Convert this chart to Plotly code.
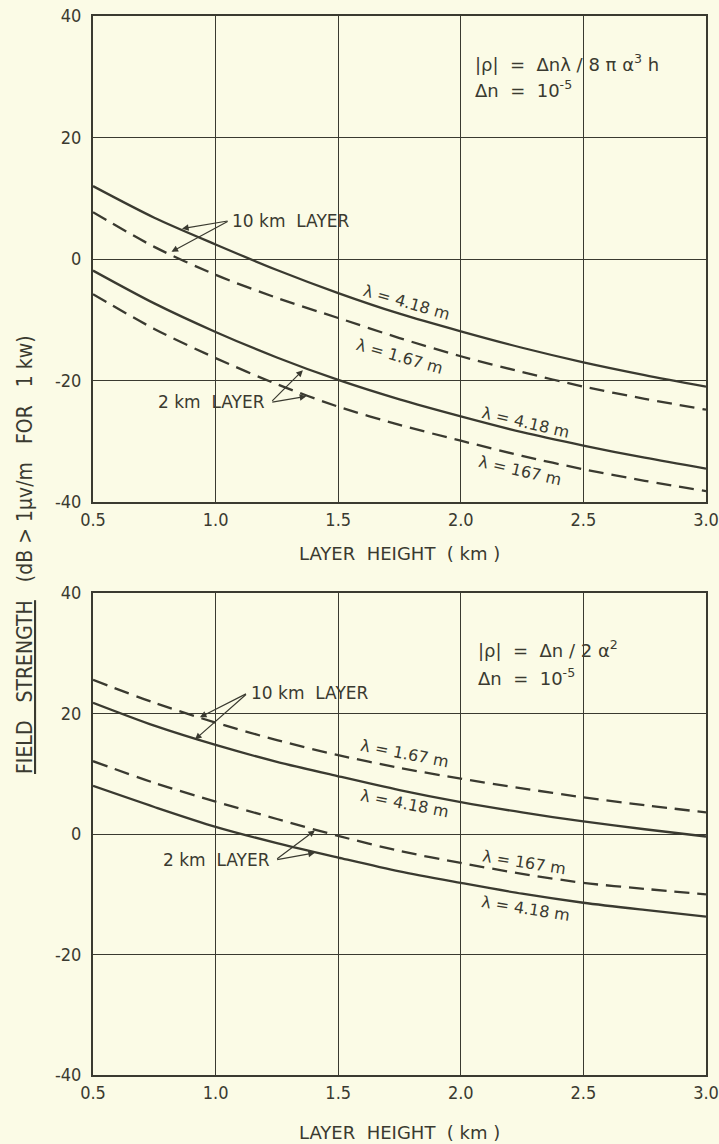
import plotly.graph_objects as go

# ---------------- data ----------------
layer_height_km = [0.5, 0.75, 1.0, 1.25, 1.5, 1.75, 2.0, 2.25, 2.5, 2.75, 3.0]

# Top panel: |rho| = dn*lambda / 8 pi a^3 h
top_10km_418 = [12.0, 6.8, 2.4, -1.8, -5.6, -9.0, -11.9, -14.6, -17.0, -19.1, -21.0]
top_10km_167 = [7.7, 2.0, -2.6, -6.4, -9.7, -13.0, -16.0, -18.6, -21.0, -23.0, -24.8]
top_2km_418 = [-1.9, -7.3, -12.0, -16.2, -19.9, -23.1, -25.9, -28.5, -30.7, -32.7, -34.5]
top_2km_167 = [-5.8, -11.5, -16.3, -20.6, -24.3, -27.3, -29.9, -32.4, -34.6, -36.5, -38.2]

# Bottom panel: |rho| = dn / 2 a^2
bot_10km_167 = [25.6, 21.8, 18.5, 15.6, 13.1, 11.0, 9.2, 7.6, 6.1, 4.8, 3.6]
bot_10km_418 = [21.8, 18.0, 14.8, 12.0, 9.6, 7.3, 5.3, 3.6, 2.1, 0.8, -0.4]
bot_2km_167 = [12.1, 8.5, 5.4, 2.5, -0.3, -2.8, -4.8, -6.6, -8.1, -9.1, -10.0]
bot_2km_418 = [8.0, 4.5, 1.2, -1.5, -3.9, -6.2, -8.1, -9.9, -11.4, -12.6, -13.7]

x_ticks = [0.5, 1.0, 1.5, 2.0, 2.5, 3.0]
x_ticktext = ["0.5", "1.0", "1.5", "2.0", "2.5", "3.0"]
y_ticks = [-40, -20, 0, 20, 40]
y_ticktext = ["-40", "-20", "0", "20", "40"]

# ---------------- style ----------------
BG = "#fbfbe6"
INK = "#3a3a30"
LBL_FONT = "DejaVu Sans, Liberation Sans, sans-serif"
TICK_FONT = "Liberation Sans Narrow, DejaVu Sans Condensed, Roboto Condensed, Liberation Sans, sans-serif"
DASH = "15px,8px"

fig = go.Figure()


def add_curve(y, xa, ya, dashed):
    fig.add_trace(go.Scatter(
        x=layer_height_km, y=y, mode="lines", xaxis=xa, yaxis=ya,
        line=dict(color=INK, width=2.3, shape="spline", smoothing=0.8,
                  dash=DASH if dashed else "solid"),
        hoverinfo="skip", showlegend=False))


add_curve(top_10km_418, "x", "y", False)
add_curve(top_10km_167, "x", "y", True)
add_curve(top_2km_418, "x", "y", False)
add_curve(top_2km_167, "x", "y", True)
add_curve(bot_10km_167, "x2", "y2", True)
add_curve(bot_10km_418, "x2", "y2", False)
add_curve(bot_2km_167, "x2", "y2", True)
add_curve(bot_2km_418, "x2", "y2", False)

ax_common = dict(
    showline=True, mirror=True, linecolor=INK, linewidth=2,
    showgrid=True, gridcolor=INK, gridwidth=1, zeroline=False,
    ticks="", automargin=False,
    tickfont=dict(family=TICK_FONT, size=18, color=INK),
)

fig.update_layout(
    width=719, height=1144,
    paper_bgcolor=BG, plot_bgcolor=BG,
    margin=dict(l=93, r=13, t=16, b=69),
    showlegend=False,
    xaxis=dict(domain=[0, 1], range=[0.5, 3.0], anchor="y",
               tickvals=x_ticks, ticktext=x_ticktext, **ax_common),
    yaxis=dict(domain=[0.541, 1], range=[-40, 40], anchor="x",
               tickvals=y_ticks, ticktext=y_ticktext, ticklabelstandoff=6, **ax_common),
    xaxis2=dict(domain=[0, 1], range=[0.5, 3.0], anchor="y2",
                tickvals=x_ticks, ticktext=x_ticktext, **ax_common),
    yaxis2=dict(domain=[0, 0.455], range=[-40, 40], anchor="x2",
                tickvals=y_ticks, ticktext=y_ticktext, ticklabelstandoff=6, **ax_common),
)

ann = []


def text(x, y, t, xr, yr, angle=0, anchor="center", size=16):
    ann.append(dict(x=x, y=y, xref=xr, yref=yr, text=t, showarrow=False,
                    textangle=angle, xanchor=anchor, yanchor="middle",
                    font=dict(family=LBL_FONT, size=size, color=INK)))


def arrow(x, y, tx, ty, xr, yr):
    ann.append(dict(x=x, y=y, ax=tx, ay=ty, xref=xr, yref=yr, axref=xr, ayref=yr,
                    text="", showarrow=True, arrowhead=2, arrowsize=1.1,
                    arrowwidth=1.2, arrowcolor=INK))


# top panel labels
text(2.05, 32.2, "|ρ|  =  Δnλ / 8 π α<sup>3</sup> h", "x", "y", anchor="left", size=18)
text(2.05, 28.0, "Δn  =  10<sup>-5</sup>", "x", "y", anchor="left", size=18)
text(1.06, 6.3, "10 km  LAYER", "x", "y", anchor="left", size=17)
arrow(0.863, 5.0, 1.055, 6.3, "x", "y")
arrow(0.82, 1.2, 1.055, 6.3, "x", "y")
text(1.21, -23.6, "2 km  LAYER", "x", "y", anchor="right", size=17)
arrow(1.356, -18.3, 1.225, -23.6, "x", "y")
arrow(1.37, -22.6, 1.225, -23.6, "x", "y")
text(1.78, -7.1, "λ = 4.18 m", "x", "y", angle=16)
text(1.75, -16.0, "λ = 1.67 m", "x", "y", angle=16)
text(2.265, -26.9, "λ = 4.18 m", "x", "y", angle=13)
text(2.24, -34.8, "λ = 167 m", "x", "y", angle=13)

# bottom panel labels
text(2.06, 30.8, "|ρ|  =  Δn / 2 α<sup>2</sup>", "x2", "y2", anchor="left", size=18)
text(2.06, 26.0, "Δn  =  10<sup>-5</sup>", "x2", "y2", anchor="left", size=18)
text(1.135, 23.4, "10 km  LAYER", "x2", "y2", anchor="left", size=17)
arrow(0.936, 19.4, 1.13, 23.4, "x2", "y2")
arrow(0.916, 15.7, 1.13, 23.4, "x2", "y2")
text(1.23, -4.3, "2 km  LAYER", "x2", "y2", anchor="right", size=17)
arrow(1.405, 0.6, 1.245, -4.3, "x2", "y2")
arrow(1.405, -3.1, 1.245, -4.3, "x2", "y2")
text(1.77, 13.3, "λ = 1.67 m", "x2", "y2", angle=11)
text(1.77, 5.1, "λ = 4.18 m", "x2", "y2", angle=11)
text(2.258, -4.7, "λ = 167 m", "x2", "y2", angle=9)
text(2.262, -12.3, "λ = 4.18 m", "x2", "y2", angle=9)

# axis titles
for ypx in (553, 1132):
    ann.append(dict(x=0.5, y=(1075 - ypx) / 1059, xref="paper", yref="paper",
                    text="LAYER  HEIGHT  ( km )", showarrow=False,
                    xanchor="center", yanchor="middle",
                    font=dict(family=LBL_FONT, size=18, color=INK)))
ann.append(dict(x=(25 - 93) / 613, y=(1075 - 555) / 1059, xref="paper", yref="paper",
                text="<u>FIELD   STRENGTH</u>   (dB > 1μv/m   FOR   1 kw)",
                showarrow=False, textangle=-90, xanchor="center", yanchor="middle",
                font=dict(family=TICK_FONT, size=21, color=INK)))

fig.update_layout(annotations=ann)
fig.write_html("out.html", config={"displayModeBar": False},
               post_script="document.body.style.margin='0px';document.body.style.overflow='hidden';")
